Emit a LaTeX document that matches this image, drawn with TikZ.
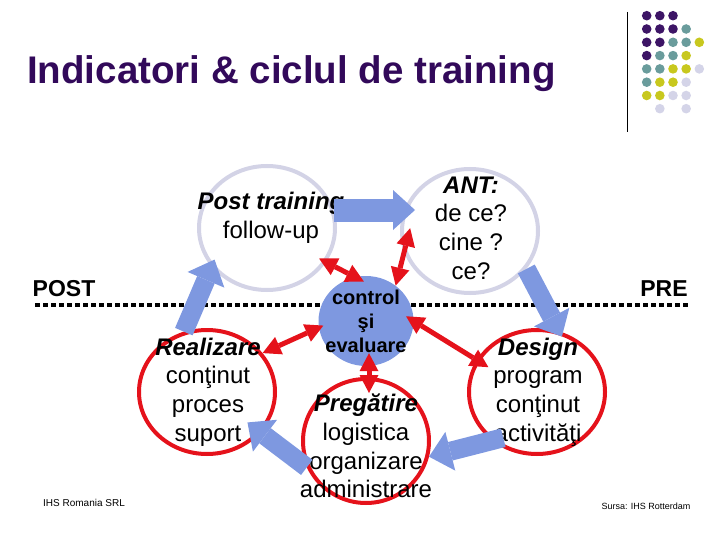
\documentclass[tikz,border=0pt]{standalone}
\usepackage{fontspec}
\setmainfont{Liberation Sans}
\usetikzlibrary{arrows.meta,shapes.geometric,calc}
\definecolor{titlepurple}{HTML}{32095A}
\definecolor{circgray}{HTML}{D3D3E6}
\definecolor{cycred}{HTML}{E5121B}
\definecolor{cycblue}{HTML}{7E98E0}
\definecolor{dotP}{HTML}{3D1566}
\definecolor{dotT}{HTML}{6A9C9C}
\definecolor{dotY}{HTML}{C8C81E}
\definecolor{dotL}{HTML}{D4D4E8}

\begin{document}
\begin{tikzpicture}[
    x=1pt, y=-1pt,
    lightcirc/.style={ellipse, draw=circgray, line width=4pt, minimum width=136pt, minimum height=124pt, inner sep=0pt},
    redcirc/.style={ellipse, draw=cycred, line width=4pt, minimum width=136pt, minimum height=124pt, inner sep=0pt},
    ctrlcirc/.style={ellipse, fill=cycblue, minimum width=95pt, minimum height=90pt, inner sep=0pt},
    bodytext/.style={font=\fontsize{24}{28.7}\selectfont, align=center},
    ctrltext/.style={font=\fontsize{20}{24}\selectfont\bfseries, align=center},
    sidelabel/.style={font=\fontsize{23}{27}\selectfont\bfseries},
    notetext/.style={font=\fontsize{10}{12}\selectfont},
    bluearrow/.style={-{Triangle[length=22pt, width=40pt, line width=0pt]}, line width=19pt, cycblue},
    redarrow/.style={{Triangle[length=18pt, width=19pt, line width=0pt]}-{Triangle[length=18pt, width=19pt, line width=0pt]}, line width=5pt, cycred}
]
\useasboundingbox (0,0) rectangle (720,540);

% Title
\node[anchor=base west, inner sep=0pt, font=\fontsize{38.5}{46}\selectfont\bfseries, titlepurple] (title) at (27,83.5)
    {Indicatori \& ciclul de training};

% Corner decoration: rule and dot grid
\draw[line width=1pt] (627,12) -- (627,132);
\foreach \dotrow [count=\r from 0] in {{dotP,dotP,dotP},{dotP,dotP,dotP,dotT},{dotP,dotP,dotT,dotT,dotY},{dotP,dotT,dotT,dotY},{dotT,dotT,dotY,dotY,dotL},{dotT,dotY,dotY,dotL},{dotY,dotY,dotL,dotL}}
    \foreach \dotcol [count=\k from 0] in \dotrow
        \fill[\dotcol] (646.7+13.15*\k, 15.7+13.3*\r) circle (4.8pt);
\foreach \k in {1,3}
    \fill[dotL] (646.7+13.15*\k, 108.7) circle (4.8pt);

% POST / PRE divider
\coordinate (lineL) at (35,305);
\coordinate (lineR) at (690,305);
\draw[line width=4pt, dash pattern=on 5pt off 3pt] (lineL) -- (lineR);
\node[sidelabel] (postlbl) at (64,289) {POST};
\node[sidelabel] (prelbl) at (664,289) {PRE};

% Cycle circles
\node[lightcirc] (post) at (267,228) {};
\node[lightcirc] (ant) at (470,231) {};
\node[redcirc] (real) at (207,392) {};
\node[redcirc, minimum width=126pt] (preg) at (366,441) {};
\node[redcirc] (des) at (537,392) {};
\node[ctrlcirc] (ctrl) at (366,321) {};

% Circle texts
\node[bodytext] (tpost) at (271,218) {\textbf{\textit{Post training}}\\follow-up};
\node[bodytext] (tant) at (471,228) {\textbf{\textit{ANT:}}\\de ce?\\cine ?\\ce?};
\node[ctrltext] (tctrl) at (366,321) {control\\şi\\evaluare};
\node[bodytext] (treal) at (208,392) {\textbf{\textit{Realizare}}\\conţinut\\proces\\suport};
\node[bodytext] (tdes) at (538,392) {\textbf{\textit{Design}}\\program\\conţinut\\activităţi};
\node[bodytext] (tpreg) at (366,446) {\textbf{\textit{Pregătire}}\\logistica\\organizare\\administrare};

% Cycle arrows (blue)
\draw[bluearrow, line width=23pt, shorten >=-15pt] (post.15) -- (post.15 -| ant.west);
\draw[bluearrow, shorten >=-6pt] (ant.-34) -- (des.70);
\draw[bluearrow, shorten <=-12pt] (des.-133) -- (preg.-14);
\draw[bluearrow, shorten >=-17pt] (preg.-156) -- (real.-37);
\draw[bluearrow, shorten >=-8pt] (real.111) -- (post.-145);

% Control links (red)
\draw[redarrow, shorten <=-8pt, shorten >=-10pt] (post.-30) -- (ctrl.104);
\draw[redarrow, shorten <=-25pt] (ant.-162) -- (ctrl.50);
\draw[redarrow, shorten >=-5pt] (real.35) -- (ctrl.-172);
\draw[redarrow, shorten <=-13pt, shorten >=-16pt] ([xshift=3pt]ctrl.south) -- ([xshift=3pt]preg.north);
\draw[redarrow, shorten <=-9pt, shorten >=-14pt] (ctrl.0) -- (des.152);

% Footer notes
\node[notetext] (ihs) at (84,502.5) {IHS Romania SRL};
\node[notetext, font=\fontsize{9}{11}\selectfont] (sursa) at (646,506.5) {Sursa: IHS Rotterdam};

\end{tikzpicture}
\end{document}
